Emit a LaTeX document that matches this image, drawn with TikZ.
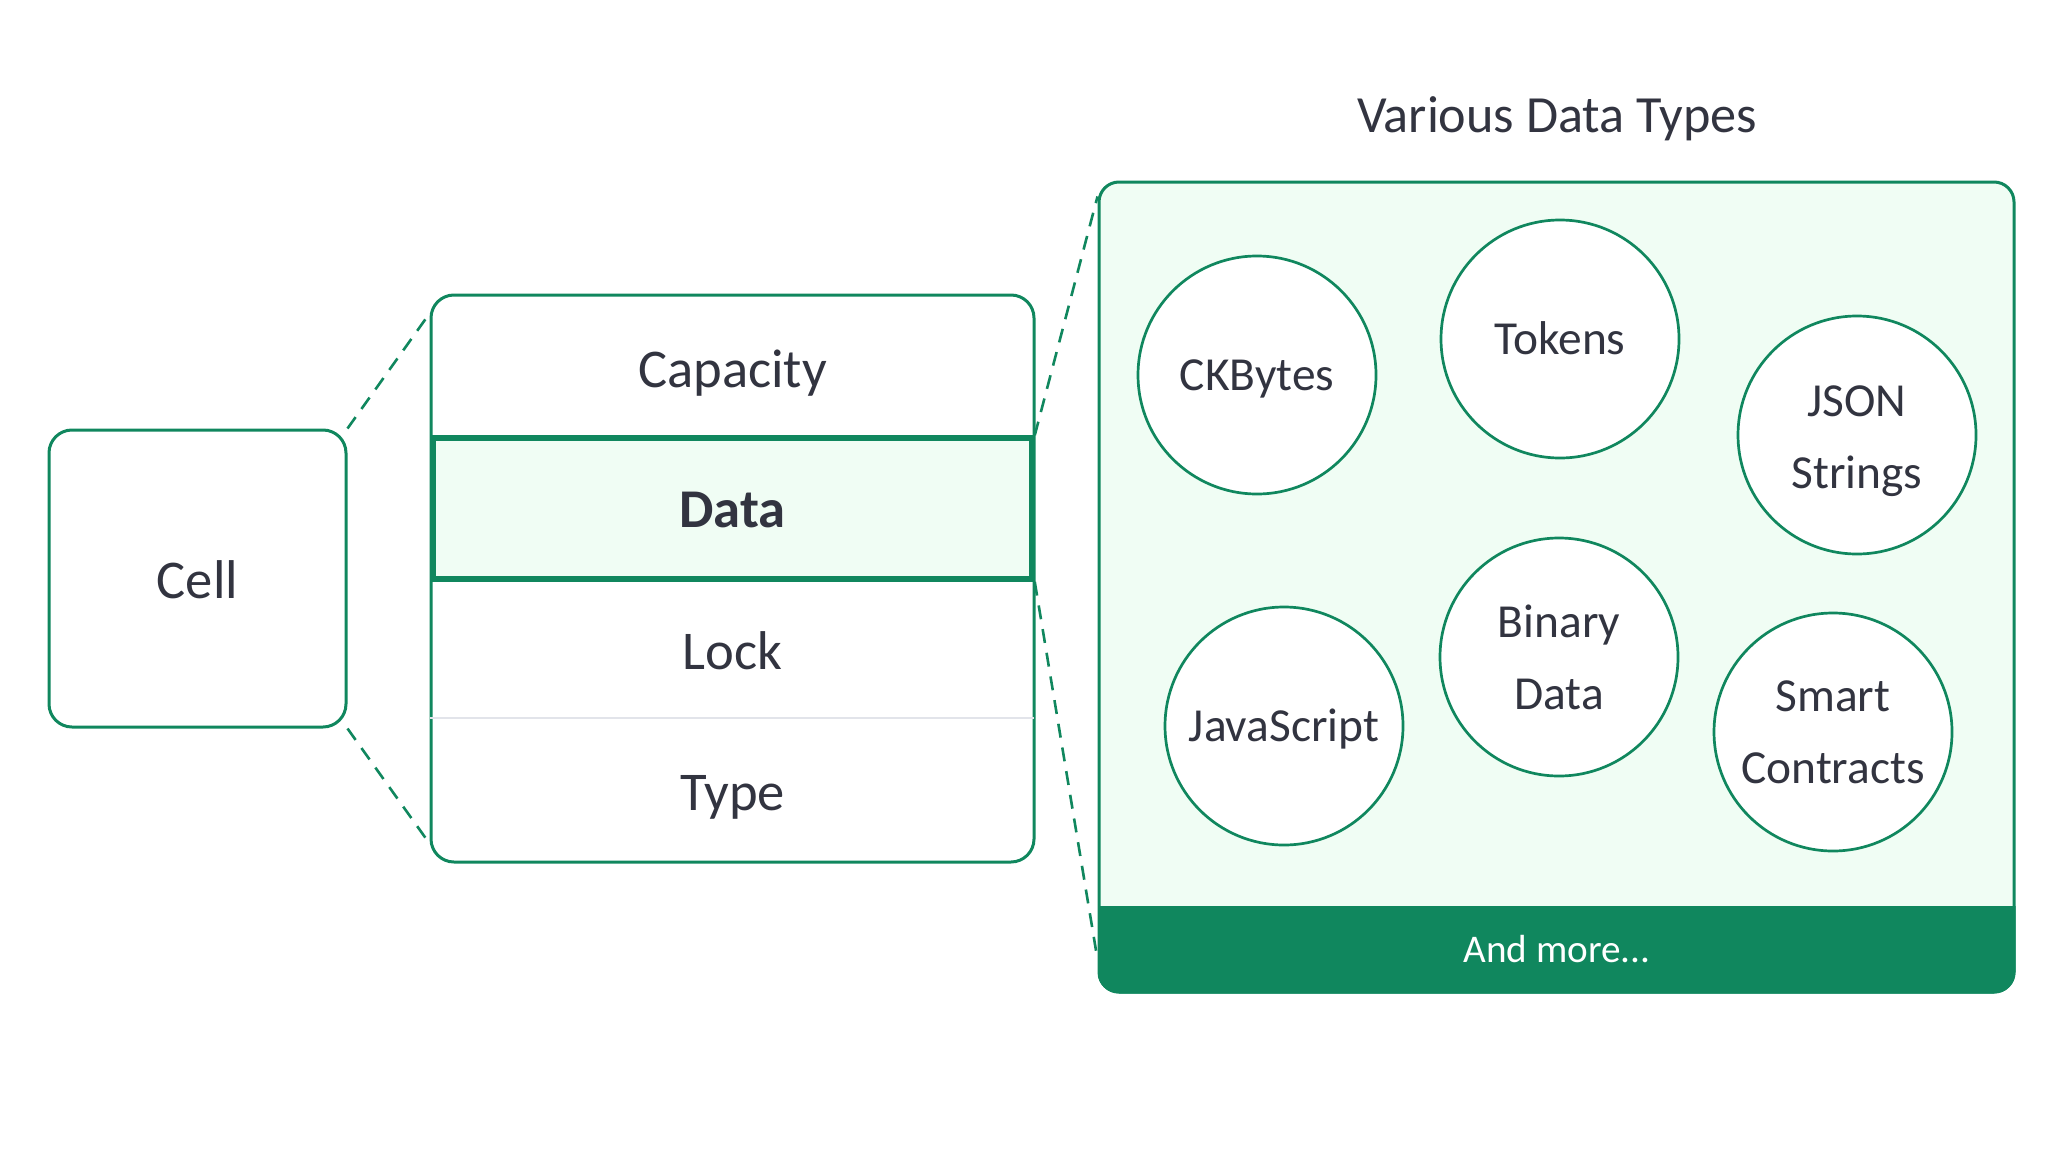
\documentclass[tikz,border=0pt]{standalone}
\usepackage{fontspec}
\setmainfont{Carlito}
\usetikzlibrary{calc}
\definecolor{cgreen}{RGB}{16,135,94}
\definecolor{cmint}{RGB}{240,253,244}
\definecolor{ctext}{RGB}{50,52,64}
\definecolor{cdiv}{RGB}{226,228,234}
\begin{document}
\begin{tikzpicture}[x=0.5pt,y=-0.5pt,
  box/.style={draw=cgreen, line width=1.5pt, rounded corners=11.5pt, inner sep=0pt, fill=white},
  dataitem/.style={draw=cgreen, line width=2.75pt, fill=cmint, inner sep=0pt, minimum width=299.5pt, minimum height=70.5pt},
  rowtext/.style={font=\fontsize{27.3}{32}\selectfont, text=ctext, text height=17.25pt, text depth=0pt, inner sep=0pt},
  titletext/.style={font=\fontsize{26.1}{32}\selectfont, text=ctext, text height=16.5pt, text depth=0pt, inner sep=0pt},
  moretext/.style={font=\fontsize{19.6}{24}\selectfont, text=white, text height=12.4pt, text depth=0pt, inner sep=0pt},
  bubble/.style={circle, draw=cgreen, line width=1.35pt, fill=white, minimum size=119pt, inner sep=0pt, align=center, text=ctext, font=\fontsize{23.7}{36}\selectfont},
  oneline/.style={text height=15pt, text depth=0pt},
  link/.style={draw=cgreen, line width=1.3pt, dash pattern=on 7pt off 5pt},
]
\useasboundingbox (0,0) rectangle (2064,1161);

% boxes
\node[box, minimum width=148.5pt, minimum height=148.5pt] (cell) at (197.5,578.5) {};
\node[rowtext] (celltext) at (197.5,581) {Cell};

\node[box, minimum width=301.5pt, minimum height=283.5pt] (mid) at (732.5,578.5) {};
\node[dataitem] (data) at (732.5,508.5) {};
\draw[cdiv, line width=1.3pt] (mid.west |- 0,718) coordinate (divl) -- ([xshift=-0.75pt]mid.east |- 0,718) coordinate (divr);
\node[rowtext] (capacity) at (732.5,370) {Capacity};
\node[rowtext, font=\fontsize{27.3}{32}\selectfont\bfseries] (datatext) at (732.5,510) {Data};
\node[rowtext] (lock) at (732.5,652) {Lock};
\node[rowtext] (type) at (732.5,793) {Type};

% right container
\node[titletext] (title) at (1557,116) {Various Data Types};
\node[box, fill=cmint, rounded corners=10pt, minimum width=457.5pt, minimum height=405pt] (rbox) at (1556.5,587) {};
\begin{scope}
  \clip[rounded corners=10.75pt] (1097.5,180.5) rectangle (2015.5,993.5);
  \fill[cgreen] (1097.5,906) rectangle (2015.5,993.5);
\end{scope}
\node[moretext] (more) at (1557,950) {And more...};

% bubbles
\node[bubble, oneline] (ckb) at (1257,375) {CKBytes};
\node[bubble, oneline] (tok) at (1560,339) {Tokens};
\node[bubble] (json) at (1857,435) {\rule{0pt}{21.5pt}JSON\\Strings};
\node[bubble, oneline] (js) at (1284,726) {JavaScript};
\node[bubble] (bin) at (1559,657) {Binary\\Data};
\node[bubble] (smart) at (1833,732) {Smart\\Contracts};

% zoom connectors
\coordinate (midtl) at ($(mid.north west)+(0,20)$);
\coordinate (midbl) at ($(mid.south west)+(0,-20)$);
\coordinate (rboxtl) at ($(rbox.north west)+(0,16)$);
\coordinate (rboxbl) at ($(rbox.south west)+(0,-34)$);
\draw[link] (cell.north east) -- (midtl);
\draw[link] (cell.south east) -- (midbl);
\draw[link] (data.north east) -- (rboxtl);
\draw[link] (data.south east) -- (rboxbl);
\end{tikzpicture}
\end{document}
